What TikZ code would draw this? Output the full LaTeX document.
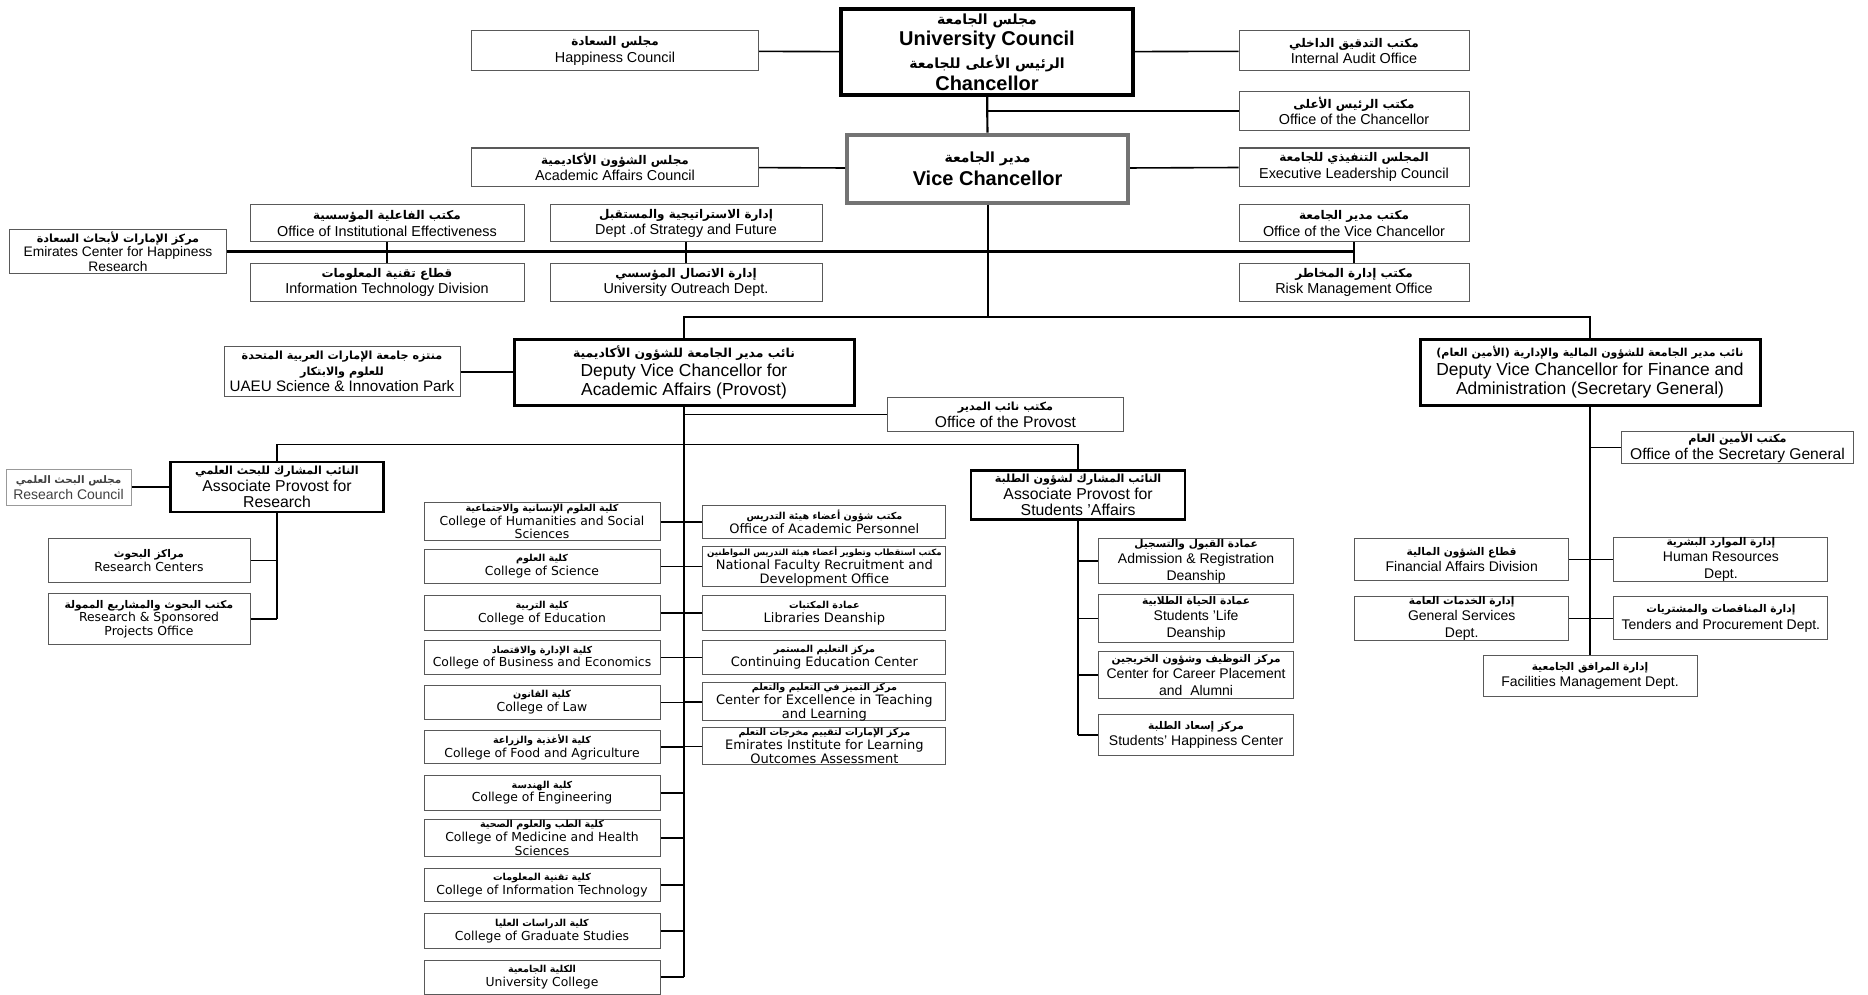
\documentclass[tikz,border=0pt]{standalone}
\usepackage{fontspec}
\setmainfont{Liberation Sans}
\newfontfamily\arfont[Script=Arabic]{DejaVu Sans}
\newfontfamily\verd{DejaVu Sans}
\TeXXeTstate=1
\newcommand{\arb}[2][6]{{\fontsize{#1}{#1}\arfont\bfseries\beginR #2\endR}}

\begin{document}
\begin{tikzpicture}[x=0.5pt, y=-0.5pt]
        \tikzstyle{unit}=[draw=black!65, line width=0.5pt, fill=white, align=center, inner sep=0pt, font=\fontsize{7.2}{8.2}\selectfont]
        \tikzstyle{chief}=[unit, draw=black, line width=1.8pt, font=\fontsize{10}{10.6}\selectfont\bfseries]
        \tikzstyle{deputy}=[unit, draw=black, line width=1.5pt, minimum width=170pt, minimum height=32.75pt, font=\fontsize{8.7}{9.6}\selectfont]
        \tikzstyle{assoc}=[unit, draw=black, line width=1.2pt, font=\fontsize{7.9}{8.2}\selectfont]
        \tikzstyle{college}=[unit, minimum width=118pt, font=\verd\fontsize{6.2}{6.8}\selectfont]
        \tikzstyle{office}=[unit, minimum width=121.5pt, font=\verd\fontsize{6.5}{7}\selectfont]
        \tikzstyle{student}=[unit, minimum width=97.7pt, font=\fontsize{7}{8.2}\selectfont]
        \tikzstyle{finance}=[unit, minimum width=107pt, font=\fontsize{7}{8.2}\selectfont]
        \tikzstyle{link}=[line width=0.8pt]
        \tikzstyle{trunk}=[line width=1.1pt]

        \path[use as bounding box, fill=white] (0,0) rectangle (1868,995);

        \node[chief, minimum width=146pt, minimum height=43pt] (uc) at (987,52) {\arb[7]{مجلس الجامعة}\\University Council\\[1pt]\arb[7]{الرئيس الأعلى للجامعة}\\Chancellor};
        \node[unit, minimum width=143.5pt, minimum height=20pt] (hc) at (615,51) {\arb{مجلس السعادة}\\Happiness Council};
        \node[unit, minimum width=115pt, minimum height=20pt] (ia) at (1354,51) {\arb{مكتب التدقيق الداخلي}\\Internal Audit Office};
        \node[unit, minimum width=115pt, minimum height=19.5pt] (oc) at (1354,111) {\arb{مكتب الرئيس الأعلى}\\Office of the Chancellor};
        \node[chief, draw=black!55, line width=2pt, minimum width=140.5pt, minimum height=34pt] (vc) at (987.6,168.6) {\arb[7]{مدير الجامعة}\\[1pt]Vice Chancellor};
        \node[unit, minimum width=143.5pt, minimum height=19pt] (aac) at (615,167) {\arb{مجلس الشؤون الأكاديمية}\\Academic Affairs Council};
        \node[unit, minimum width=115pt, minimum height=19pt] (elc) at (1354,167) {\arb{المجلس التنفيذي للجامعة}\\Executive Leadership Council};

        \node[unit, minimum width=108.5pt, minimum height=22pt, font=\fontsize{6.9}{7.2}\selectfont] (echr) at (118,251.4) {\arb[5.6]{مركز الإمارات لأبحاث السعادة}\\Emirates Center for Happiness\\Research};
        \node[unit, minimum width=137pt, minimum height=18.5pt] (oie) at (387,223.4) {\arb{مكتب الفاعلية المؤسسية}\\Office of Institutional Effectiveness};
        \node[unit, minimum width=137pt, minimum height=19pt] (itd) at (387,282.3) {\arb{قطاع تقنية المعلومات}\\Information Technology Division};
        \node[unit, minimum width=136pt, minimum height=18.5pt] (dsf) at (686,223.4) {\arb{إدارة الاستراتيجية والمستقبل}\\Dept .of Strategy and Future};
        \node[unit, minimum width=136pt, minimum height=19pt] (uod) at (686,282.3) {\arb{إدارة الاتصال المؤسسي}\\University Outreach Dept.};
        \node[unit, minimum width=115pt, minimum height=18.5pt] (ovc) at (1354,223.4) {\arb{مكتب مدير الجامعة}\\Office of the Vice Chancellor};
        \node[unit, minimum width=115pt, minimum height=19pt] (rmo) at (1354,282.3) {\arb{مكتب إدارة المخاطر}\\Risk Management Office};

        \node[deputy] (dvca) at (684,372.3) {\arb[6.2]{نائب مدير الجامعة للشؤون الأكاديمية}\\Deputy Vice Chancellor for\\Academic Affairs (Provost)};
        \node[deputy] (dvcf) at (1590,372.3) {\arb[5.5]{نائب مدير الجامعة للشؤون المالية والإدارية (الأمين العام)}\\Deputy Vice Chancellor for Finance and\\Administration (Secretary General)};
        \node[unit, minimum width=118pt, minimum height=25pt, font=\fontsize{7.6}{8}\selectfont] (sip) at (342,371.7) {\arb[5.6]{منتزه جامعة الإمارات العربية المتحدة}\\\arb[5.6]{للعلوم والابتكار}\\UAEU Science \& Innovation Park};
        \node[unit, minimum width=118pt, minimum height=16.7pt, font=\fontsize{7.8}{8.4}\selectfont] (op) at (1005.5,414.6) {\arb[5.6]{مكتب نائب المدير}\\Office of the Provost};
        \node[unit, minimum width=116pt, minimum height=16pt, font=\fontsize{7.8}{8.4}\selectfont] (osg) at (1737.5,447.6) {\arb[5.6]{مكتب الأمين العام}\\Office of the Secretary General};

        \node[assoc, minimum width=106.5pt, minimum height=25pt] (apr) at (277,487.2) {\arb[5.6]{النائب المشارك للبحث العلمي}\\Associate Provost for\\Research};
        \node[assoc, minimum width=107pt, minimum height=24.5pt] (aps) at (1078.1,495) {\arb[5.6]{النائب المشارك لشؤون الطلبة}\\Associate Provost for\\Students ’Affairs};
        \node[unit, draw=black!40, text=black!75, minimum width=62.5pt, minimum height=18pt, font=\fontsize{7}{8}\selectfont] (rc) at (68.5,487.2) {\arb[5.2]{مجلس البحث العلمي}\\Research Council};
        \node[college, minimum width=101pt, minimum height=22pt] (rcent) at (149,560.5) {\arb[5.3]{مراكز البحوث}\\Research Centers};
        \node[college, minimum width=101pt, minimum height=25.5pt] (rspo) at (149,618.9) {\arb[5.3]{مكتب البحوث والمشاريع الممولة}\\Research \& Sponsored\\Projects Office};

        \node[college, minimum height=19pt] (col1) at (542,521.8) {\arb[4.8]{كلية العلوم الإنسانية والاجتماعية}\\College of Humanities and Social\\Sciences};
        \node[college, minimum height=17.25pt] (col2) at (542,566.4) {\arb[4.8]{كلية العلوم}\\College of Science};
        \node[college, minimum height=17.25pt] (col3) at (542,612.9) {\arb[4.8]{كلية التربية}\\College of Education};
        \node[college, minimum height=16.7pt] (col4) at (542,657.6) {\arb[4.8]{كلية الإدارة والاقتصاد}\\College of Business and Economics};
        \node[college, minimum height=17.25pt] (col5) at (542,702.3) {\arb[4.8]{كلية القانون}\\College of Law};
        \node[college, minimum height=16.7pt] (col6) at (542,747) {\arb[4.8]{كلية الأغذية والزراعة}\\College of Food and Agriculture};
        \node[college, minimum height=17.25pt] (col7) at (542,792.8) {\arb[4.8]{كلية الهندسة}\\College of Engineering};
        \node[college, minimum height=18.5pt] (col8) at (542,838) {\arb[4.8]{كلية الطب والعلوم الصحية}\\College of Medicine and Health\\Sciences};
        \node[college, minimum height=16.7pt] (col9) at (542,885.1) {\arb[4.8]{كلية تقنية المعلومات}\\College of Information Technology};
        \node[college, minimum height=17.25pt] (col10) at (542,931) {\arb[4.8]{كلية الدراسات العليا}\\College of Graduate Studies};
        \node[college, minimum height=17pt] (col11) at (542,977) {\arb[4.8]{الكلية الجامعية}\\University College};

        \node[office, minimum height=16.7pt] (ofc1) at (824.4,521.8) {\arb[4.8]{مكتب شؤون أعضاء هيئة التدريس}\\Office of Academic Personnel};
        \node[office, minimum height=18.5pt] (ofc2) at (824.4,566.5) {\arb[4.3]{مكتب استقطاب وتطوير أعضاء هيئة التدريس المواطنين}\\National Faculty Recruitment and\\Development Office};
        \node[office, minimum height=17.25pt] (ofc3) at (824.4,612.9) {\arb[4.8]{عمادة المكتبات}\\Libraries Deanship};
        \node[office, minimum height=16.7pt] (ofc4) at (824.4,657.6) {\arb[4.8]{مركز التعليم المستمر}\\Continuing Education Center};
        \node[office, minimum height=19pt] (ofc5) at (824.4,701.7) {\arb[4.8]{مركز التميز في التعليم والتعلم}\\Center for Excellence in Teaching\\and Learning};
        \node[office, minimum height=18.5pt] (ofc6) at (824.4,746.4) {\arb[4.8]{مركز الإمارات لتقييم مخرجات التعلم}\\Emirates Institute for Learning\\Outcomes Assessment};

        \node[student, minimum height=22.5pt] (stu1) at (1196.1,561.1) {\arb[5.3]{عمادة القبول والتسجيل}\\Admission \& Registration\\Deanship};
        \node[student, minimum height=23.8pt] (stu2) at (1196.1,618.3) {\arb[5.3]{عمادة الحياة الطلابية}\\Students ’Life\\Deanship};
        \node[student, minimum height=23.2pt] (stu3) at (1196.1,674.9) {\arb[5.3]{مركز التوظيف وشؤون الخريجين}\\Center for Career Placement\\and\ \ Alumni};
        \node[student, minimum height=20.25pt] (stu4) at (1196.1,735) {\arb[5.3]{مركز إسعاد الطلبة}\\Students’ Happiness Center};

        \node[finance, minimum height=20.85pt] (fad) at (1461.7,559.3) {\arb[5.3]{قطاع الشؤون المالية}\\Financial Affairs Division};
        \node[finance, minimum height=20.85pt] (hr) at (1720.9,559.3) {\arb[5.3]{إدارة الموارد البشرية}\\Human Resources\\Dept.};
        \node[finance, minimum height=21.5pt] (gsd) at (1461.7,618.3) {\arb[5.3]{إدارة الخدمات العامة}\\General Services\\Dept.};
        \node[finance, minimum height=21.5pt] (tpd) at (1720.9,618.3) {\arb[5.3]{إدارة المناقصات والمشتريات}\\Tenders and Procurement Dept.};
        \node[finance, minimum height=20.85pt] (fmd) at (1590,676.1) {\arb[5.3]{إدارة المرافق الجامعية}\\Facilities Management Dept.};

        \coordinate (split) at (987.6,316.9);
        \coordinate (fork) at (684,444.4);

        \draw[link] (hc) -- (uc) -- (ia);
        \draw[trunk] (uc) -- (vc);
        \draw[link] (oc.west) -- (oc.west -| uc.south);
        \draw[link] (aac) -- (vc) -- (elc);
        \draw[trunk] (vc.south) -- (split);
        \draw[trunk] (dvca.north) -- (dvca.north |- split) -- (dvcf.north |- split) -- (dvcf.north);
        \draw[trunk] (echr.east) -- (echr.east -| ovc.south);
        \draw[link] (oie) -- (itd);
        \draw[link] (dsf) -- (uod);
        \draw[link] (ovc) -- (rmo);
        \draw[link] (sip.east) -- (sip.east -| dvca.west);
        \draw[trunk] (dvca.south) -- (dvca.south |- col11.east);
        \draw[link] (op.west) -- (op.west -| dvca.south);
        \draw[link] (apr.north) -- (apr.north |- fork) -- (aps.north |- fork) -- (aps.north);
        \draw[link] (rc) -- (apr);
        \draw[link] (apr.south) -- (apr.south |- rspo.east);
        \foreach \n in {rcent,rspo} \draw[link] (\n.east) -- (\n.east -| apr.south);
        \foreach \n in {1,...,11} \draw[link] (col\n.east) -- (col\n.east -| dvca.south);
        \foreach \n in {1,...,6} \draw[link] (ofc\n.west) -- (ofc\n.west -| dvca.south);
        \draw[link] (aps.south) -- (aps.south |- stu4.west);
        \foreach \n in {1,...,4} \draw[link] (stu\n.west) -- (stu\n.west -| aps.south);
        \draw[trunk] (dvcf.south) -- (fmd.north);
        \draw[link] (osg.west) -- (osg.west -| dvcf.south);
        \draw[link] (fad) -- (hr);
        \draw[link] (gsd) -- (tpd);
\end{tikzpicture}
\end{document}
